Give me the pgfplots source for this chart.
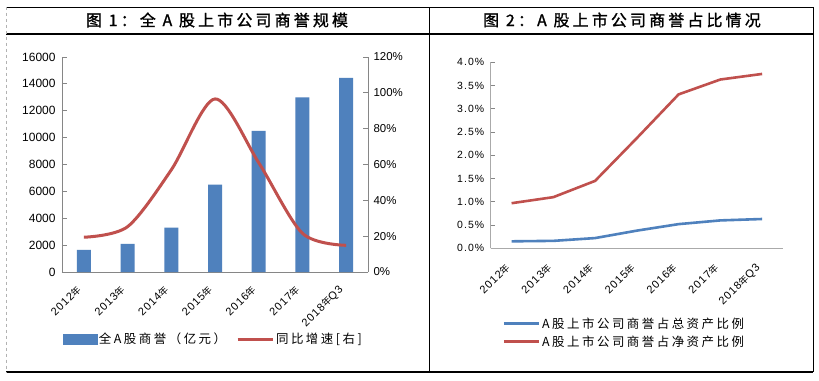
\documentclass[border=0pt]{standalone}
\usepackage{pgfplots}
\pgfplotsset{compat=1.18}
\usepackage{fontspec}
\setmainfont{Liberation Sans}
\newfontfamily\spaced{Liberation Sans}[LetterSpace=10]
\newfontfamily\cjk{Noto Sans CJK SC}[LetterSpace=20]
\newfontfamily\cjkn{Noto Sans CJK SC}
\newfontfamily\cjkt{Noto Sans CJK SC}[LetterSpace=20, FakeBold=1.3]
\newcommand{\nian}{{\fontsize{9.5}{9.5}\cjkn 年}}
\definecolor{barblue}{HTML}{4F81BD}
\definecolor{linered}{HTML}{C0504D}
\definecolor{axisgray}{HTML}{868686}
\begin{document}
\begin{tikzpicture}
\useasboundingbox (0,0) rectangle (819bp,-381bp);
\fill[white] (0,0) rectangle (819bp,-381bp);
% frame
\draw[black, line width=1bp] (6bp,-7bp) -- (813bp,-7bp);
\draw[black, line width=1.2bp] (6bp,-34bp) -- (813bp,-34bp);
\draw[black, line width=1.2bp] (6bp,-372bp) -- (813bp,-372bp);
\draw[gray!60, dashed, line width=0.6bp] (6bp,-7bp) -- (6bp,-372bp);
\draw[black, line width=1bp] (429bp,-7bp) -- (429bp,-372bp);
\draw[black, line width=1bp] (813bp,-7bp) -- (813bp,-372bp);
% titles
\node[font=\fontsize{16}{16}\cjkt] at (217bp,-20bp) {图 1：全 A 股上市公司商誉规模};
\node[font=\fontsize{16}{16}\cjkt] at (622bp,-20bp) {图 2：A 股上市公司商誉占比情况};

% ---------- left panel: bars ----------
\begin{axis}[
  at={(62bp,-272bp)}, anchor=south west,
  scale only axis, width=306bp, height=215bp,
  xmin=-0.5, xmax=6.5, ymin=0, ymax=16000,
  scaled y ticks=false,
  axis y line*=left, axis x line*=bottom,
  axis line style={draw=axisgray, line width=0.8bp},
  ytick={0,2000,4000,6000,8000,10000,12000,14000,16000},
  yticklabels={0,2000,4000,6000,8000,10000,12000,14000,16000},
  yticklabel style={font=\fontsize{12}{12}\selectfont, xshift=-3bp},
  xtick={0,1,2,3,4,5,6},
  xticklabels={2012\nian,2013\nian,2014\nian,2015\nian,2016\nian,2017\nian,2018\nian Q3},
  xticklabel style={font=\fontsize{11}{11}\spaced, inner sep=1bp, xshift=-4bp, yshift=-15bp, rotate=45, anchor=east},
  x tick style={draw=none},
  y tick style={draw=axisgray, line width=0.8bp},
  tick align=inside, major tick length=5bp,
]
\addplot[ybar, bar width=14bp, fill=barblue, draw=none] coordinates {
(0,1650) (1,2100) (2,3300) (3,6500) (4,10500) (5,13000) (6,14450)};
\end{axis}
\begin{axis}[
  at={(62bp,-272bp)}, anchor=south west,
  scale only axis, width=306bp, height=215bp,
  xmin=-0.5, xmax=6.5, ymin=0, ymax=120,
  axis y line*=right, axis x line=none,
  axis line style={draw=axisgray, line width=0.8bp},
  ytick={0,20,40,60,80,100,120},
  yticklabels={0\%,20\%,40\%,60\%,80\%,100\%,120\%},
  yticklabel style={font=\fontsize{11.5}{11.5}\selectfont, xshift=2bp},
  y tick style={draw=axisgray, line width=0.8bp},
  tick align=inside, major tick length=5bp,
  legend columns=2,
  legend style={at={(0.494,-0.312)}, anchor=center, draw=none, fill=none,
    font=\fontsize{12.5}{12.5}\cjk,
    /tikz/every even column/.append style={column sep=8bp}},
]
\addlegendimage{legend image code/.code={\fill[barblue] (0bp,-5bp) rectangle (34bp,5bp);}}
\addlegendentry{全A股商誉（亿元）}
\addplot[linered, line width=3bp, smooth,
  legend image code/.code={\draw[linered, line width=3bp] (0bp,0bp) -- (35bp,0bp);}]
  coordinates {(0,19.4) (1,25.3) (2,57) (3,96.6) (4,61) (5,21.6) (6,14.9)};
\addlegendentry{同比增速[右]}
\end{axis}

% ---------- right panel ----------
\begin{axis}[
  at={(490.7bp,-248.3bp)}, anchor=south west,
  scale only axis, width=292.3bp, height=186bp,
  xmin=-0.5, xmax=6.5, ymin=0, ymax=4,
  axis y line*=left, axis x line*=bottom,
  axis line style={draw=axisgray!70, line width=0.8bp},
  ytick={0,0.5,1,1.5,2,2.5,3,3.5,4},
  yticklabels={0.0\%,0.5\%,1.0\%,1.5\%,2.0\%,2.5\%,3.0\%,3.5\%,4.0\%},
  yticklabel style={font=\fontsize{10.5}{10.5}\spaced, xshift=-3bp},
  xtick={0,1,2,3,4,5,6},
  xticklabels={2012\nian,2013\nian,2014\nian,2015\nian,2016\nian,2017\nian,2018\nian Q3},
  xticklabel style={font=\fontsize{11}{11}\spaced, inner sep=1bp, xshift=-3bp, yshift=-17bp, rotate=45, anchor=east},
  x tick style={draw=none},
  y tick style={draw=axisgray, line width=0.8bp},
  tick align=inside, major tick length=4bp,
  legend cell align=left,
  legend style={at={(0.457,-0.453)}, anchor=center, draw=none, fill=none,
    font=\fontsize{12.5}{12.5}\cjk, row sep=2bp},
  legend image code/.code={\draw[#1] (0bp,0bp) -- (35bp,0bp);},
]
\addplot[barblue, line width=2.6bp] coordinates {
(0,0.15) (1,0.16) (2,0.22) (3,0.38) (4,0.52) (5,0.60) (6,0.63)};
\addlegendentry{A股上市公司商誉占总资产比例}
\addplot[linered, line width=2.6bp] coordinates {
(0,0.97) (1,1.10) (2,1.45) (3,2.37) (4,3.31) (5,3.63) (6,3.75)};
\addlegendentry{A股上市公司商誉占净资产比例}
\end{axis}
\end{tikzpicture}
\end{document}
